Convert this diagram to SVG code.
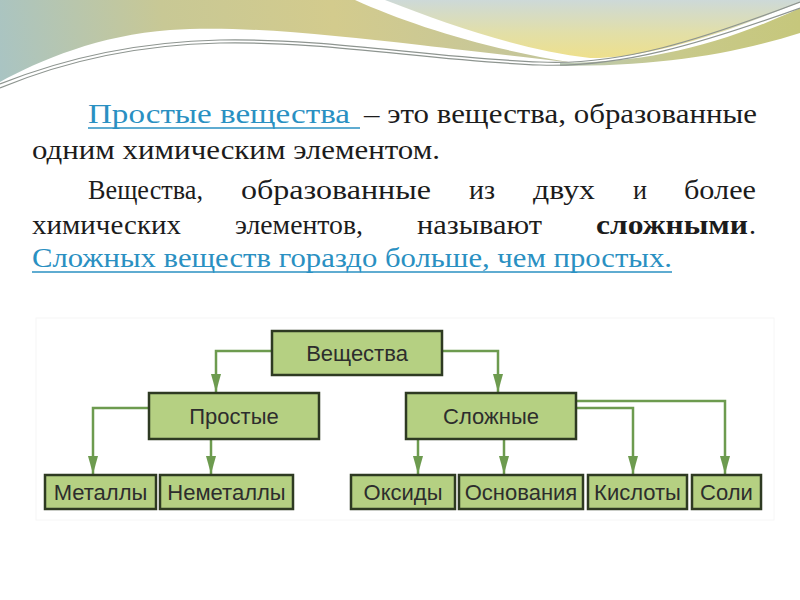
<svg xmlns="http://www.w3.org/2000/svg" width="800" height="600" viewBox="0 0 800 600">
<defs>
<linearGradient id="gOlive" x1="0" y1="80" x2="560" y2="0" gradientUnits="userSpaceOnUse">
<stop offset="0" stop-color="#a9c4c3"/>
<stop offset="0.3" stop-color="#c8c895"/>
<stop offset="0.6" stop-color="#d3cb8d"/>
<stop offset="1" stop-color="#c2c59c"/>
</linearGradient>
<linearGradient id="gSky" x1="0" y1="0" x2="0" y2="60" gradientUnits="userSpaceOnUse">
<stop offset="0" stop-color="#cdd9d8"/>
<stop offset="0.55" stop-color="#e2dfa8"/>
<stop offset="1" stop-color="#efe08a"/>
</linearGradient>
<linearGradient id="gBand" x1="560" y1="0" x2="800" y2="0" gradientUnits="userSpaceOnUse">
<stop offset="0" stop-color="#b9c8b6"/>
<stop offset="0.5" stop-color="#c8c98a"/>
<stop offset="1" stop-color="#c6c77c"/>
</linearGradient>
<marker id="arr" markerUnits="userSpaceOnUse" markerWidth="18" markerHeight="10" viewBox="0 0 18 10" refX="18" refY="5" orient="auto">
<path d="M0,0 L18,5 L0,10 Z" fill="#6d9b4f"/>
</marker>
<style>
.txt{font-family:"Liberation Serif","Times New Roman",serif;font-size:28px;fill:#1c1c1c}
.blue{fill:#2a90c2}
.ul{stroke:#2a90c2;stroke-width:1.5}
.box{fill:#b5d082;stroke:#2e3a22;stroke-width:2.5}
.lbl{font-family:"Liberation Sans",Arial,sans-serif;font-size:22px;fill:#2d2d2d;text-anchor:middle}
.con{fill:none;stroke:#6d9b4f;stroke-width:2.5}
.wl{fill:none;stroke:#8e9590;stroke-width:1.2}
</style>
</defs>
<rect width="800" height="600" fill="#ffffff"/>
<!-- decorative background -->
<path d="M0,0 H355 C410,25 490,50 575,63 C530,58 480,52 420,45 C330,35 240,25 170,30 C100,35 40,60 0,82 Z" fill="url(#gOlive)"/>
<path d="M385,0 H800 V2 C720,35 650,58 590,58 C520,50 450,25 385,0 Z" fill="url(#gSky)"/>
<path d="M560,63 C650,63 720,45 800,8 V33 C730,55 660,66 560,66 Z" fill="url(#gBand)"/>
<path class="wl" d="M0,84 C60,60 130,42 220,40 C330,38 430,58 540,62 C620,66 700,40 800,2"/>
<path class="wl" d="M0,88 C60,63 130,45 220,43 C330,41 430,61 540,65 C620,68 700,44 800,8"/>
<!-- text -->
<g id="para1">
<text class="txt blue" x="88" y="123" textLength="262" lengthAdjust="spacingAndGlyphs">Простые вещества</text>
<line class="ul" x1="88" y1="128" x2="360" y2="128"/>
<text class="txt" x="364" y="123" textLength="393" lengthAdjust="spacingAndGlyphs">– это вещества, образованные</text>
<text class="txt" x="32" y="159" textLength="408" lengthAdjust="spacingAndGlyphs">одним химическим элементом.</text>
</g>
<g id="para2">
<text class="txt" x="88" y="199" textLength="115" lengthAdjust="spacingAndGlyphs">Вещества,</text>
<text class="txt" x="241" y="199" textLength="190" lengthAdjust="spacingAndGlyphs">образованные</text>
<text class="txt" x="469" y="199" textLength="26" lengthAdjust="spacingAndGlyphs">из</text>
<text class="txt" x="533" y="199" textLength="62" lengthAdjust="spacingAndGlyphs">двух</text>
<text class="txt" x="633" y="199" textLength="14" lengthAdjust="spacingAndGlyphs">и</text>
<text class="txt" x="684" y="199" textLength="72" lengthAdjust="spacingAndGlyphs">более</text>
<text class="txt" x="32" y="234" textLength="149" lengthAdjust="spacingAndGlyphs">химических</text>
<text class="txt" x="235" y="234" textLength="128" lengthAdjust="spacingAndGlyphs">элементов,</text>
<text class="txt" x="417" y="234" textLength="125" lengthAdjust="spacingAndGlyphs">называют</text>
<text class="txt" x="596" y="234" textLength="152" lengthAdjust="spacingAndGlyphs" font-weight="bold">сложными</text>
<text class="txt" x="749" y="234">.</text>
<text class="txt blue" x="32" y="267" textLength="640" lengthAdjust="spacingAndGlyphs">Сложных веществ гораздо больше, чем простых.</text>
<line class="ul" x1="32" y1="272" x2="672" y2="272"/>
</g>
<!-- diagram panel -->
<rect x="36" y="318" width="738" height="202" fill="#ffffff" stroke="#f6f6f6" stroke-width="1"/>
<g id="connectors">
<path class="con" d="M272,351 H216 V392" marker-end="url(#arr)"/>
<path class="con" d="M443,351 H498 V392" marker-end="url(#arr)"/>
<path class="con" d="M149,408 H93 V474" marker-end="url(#arr)"/>
<path class="con" d="M211,440 V474" marker-end="url(#arr)"/>
<path class="con" d="M418,440 V474" marker-end="url(#arr)"/>
<path class="con" d="M504,440 V474" marker-end="url(#arr)"/>
<path class="con" d="M577,408 H633 V474" marker-end="url(#arr)"/>
<path class="con" d="M577,401 H725 V474" marker-end="url(#arr)"/>
</g>
<g id="n-veshchestva"><rect class="box" x="272" y="331" width="170" height="44"/><text class="lbl" x="357" y="361">Вещества</text></g>
<g id="n-prostye"><rect class="box" x="149" y="393" width="170" height="46"/><text class="lbl" x="234" y="424">Простые</text></g>
<g id="n-slozhnye"><rect class="box" x="406" y="393" width="170" height="46"/><text class="lbl" x="491" y="424">Сложные</text></g>
<g id="n-metally"><rect class="box" x="45" y="475" width="111" height="34"/><text class="lbl" x="100.5" y="500">Металлы</text></g>
<g id="n-nemetally"><rect class="box" x="160" y="475" width="133" height="34"/><text class="lbl" x="226.5" y="500">Неметаллы</text></g>
<g id="n-oksidy"><rect class="box" x="351" y="475" width="104" height="34"/><text class="lbl" x="403" y="500">Оксиды</text></g>
<g id="n-osnovaniya"><rect class="box" x="459" y="475" width="124" height="34"/><text class="lbl" x="521" y="500">Основания</text></g>
<g id="n-kisloty"><rect class="box" x="588" y="475" width="99" height="34"/><text class="lbl" x="637.5" y="500">Кислоты</text></g>
<g id="n-soli"><rect class="box" x="692" y="475" width="69" height="34"/><text class="lbl" x="726.5" y="500">Соли</text></g>
</svg>
